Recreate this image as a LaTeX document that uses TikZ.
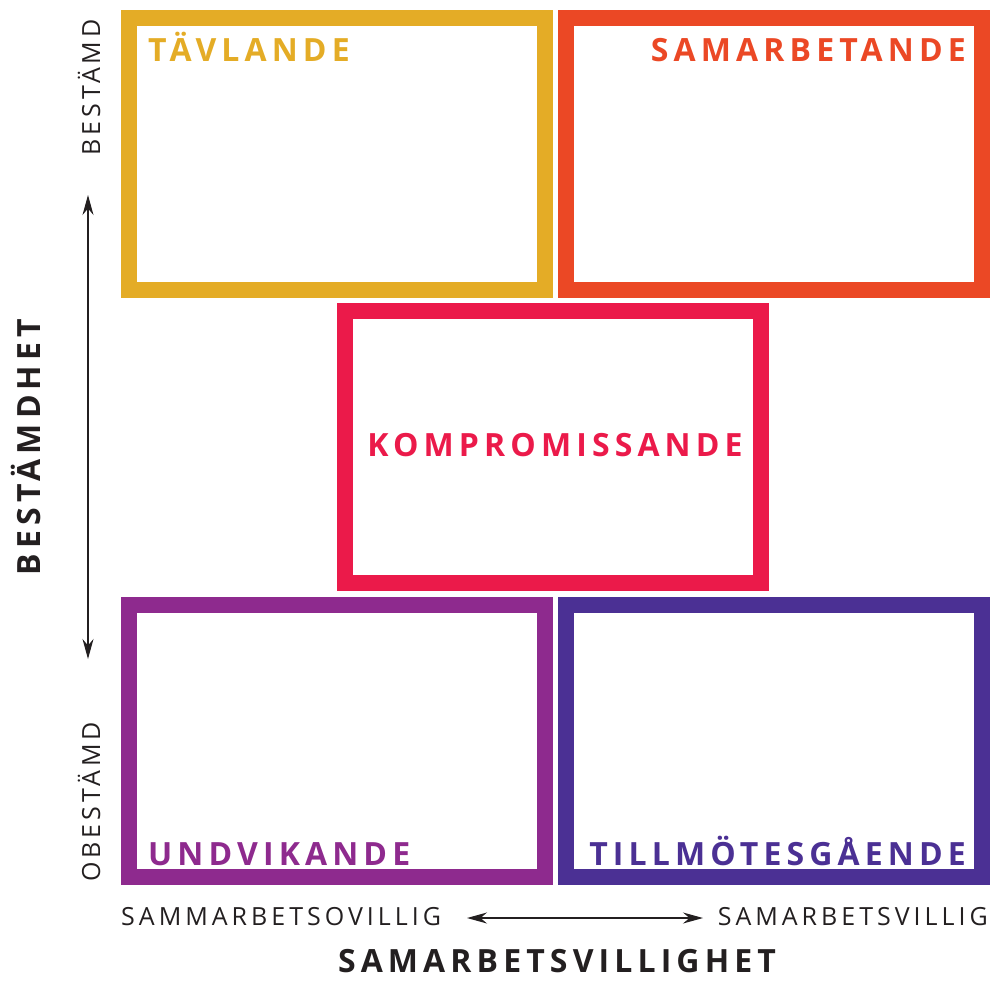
\documentclass[tikz,border=0pt]{standalone}
\usepackage{fontspec}
\setmainfont{Open Sans}
\newfontfamily\labfont[LetterSpace=16]{Open Sans}
\newfontfamily\axfont[LetterSpace=16]{Open Sans}
\usepackage{tikz}
\usetikzlibrary{arrows.meta}
\definecolor{tavcol}{HTML}{E4AC26}
\definecolor{samcol}{HTML}{EB4825}
\definecolor{komcol}{HTML}{EB1A4A}
\definecolor{undcol}{HTML}{8E2A8E}
\definecolor{tilcol}{HTML}{4B3094}
\definecolor{ink}{HTML}{231F20}
\tikzset{box/.style={draw=#1, line width=16pt, minimum width=416pt, minimum height=272pt, inner sep=0pt, outer sep=0pt}}
\tikzset{lab/.style={font=\labfont\bfseries\fontsize{32}{32}\selectfont, text=#1, inner sep=0pt}}
\tikzset{axlab/.style={font=\axfont\fontsize{25}{25}\selectfont, text=ink, inner sep=0pt}}
\tikzset{dbl/.style={{Stealth[length=20pt,width=11pt]}-{Stealth[length=20pt,width=11pt]}, line width=1.2pt, draw=ink}}

\begin{document}
\begin{tikzpicture}[x=1pt, y=-1pt]
\useasboundingbox (0,0) rectangle (993,980);

\node[box=tavcol] (tav) at (337,154) {};
\node[box=samcol] (sam) at (774,154) {};
\node[box=komcol] (kom) at (553,447) {};
\node[box=undcol] (und) at (337,741) {};
\node[box=tilcol] (til) at (774,741) {};

\node[lab=tavcol, anchor=base west] (tavlab) at ([shift={(19,43)}]tav.north west) {TÄVLANDE};
\node[lab=samcol, anchor=base east] (samlab) at ([shift={(-16,43)}]sam.north east) {SAMARBETANDE};
\node[lab=komcol, anchor=base] (komlab) at (555,456) {KOMPROMISSANDE};
\node[lab=undcol, anchor=base west] (undlab) at ([shift={(19,-12)}]und.south west) {UNDVIKANDE};
\node[lab=tilcol, anchor=base east] (tillab) at ([shift={(-16,-12)}]til.south east) {TILLMÖTESGÅENDE};

\node[axlab, rotate=90, anchor=base west] (hi) at (100,156) {BESTÄMD};
\node[axlab, rotate=90, anchor=base west] (lo) at (100,882) {OBESTÄMD};
\node[lab=ink, rotate=90, anchor=base] (yax) at (40,447) {BESTÄMDHET};
\node[axlab, anchor=base west] (left) at (121,925) {SAMMARBETSOVILLIG};
\node[axlab, anchor=base east] (right) at (988,925) {SAMARBETSVILLIG};
\node[lab=ink, anchor=base] (xax) at (557,972) {SAMARBETSVILLIGHET};

\coordinate (vtop) at (88,195);
\coordinate (vbot) at (88,659);
\coordinate (hl) at (467,918);
\coordinate (hr) at (703,918);
\draw[dbl] (vbot) -- (vtop);
\draw[dbl] (hl) -- (hr);
\end{tikzpicture}
\end{document}
